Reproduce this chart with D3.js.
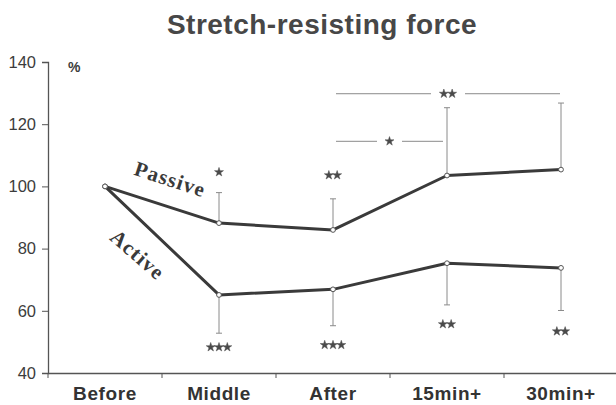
<!DOCTYPE html>
<html><head><meta charset="utf-8">
<script src="https://cdn.jsdelivr.net/npm/d3@7"></script>
<style>
html,body{margin:0;padding:0;background:#fff;}
svg{display:block;}
</style>
</head><body>
<svg id="chart" width="616" height="405"></svg>
<script>
const title = "Stretch-resisting force";
const categories = ["Before", "Middle", "After", "15min+", "30min+"];
const yTicks = [40, 60, 80, 100, 120, 140];
const passive = [100, 88.2, 86, 103.5, 105.4];
const passiveErrTop = [null, 98, 96, 125.3, 126.8];
const active = [100, 65.1, 66.9, 75.3, 73.8];
const activeErrBottom = [null, 52.8, 55.2, 61.9, 60.1];
// number of significance stars and their vertical position (in % units)
const passiveStars = [0, 1, 2, 0, 0];
const passiveStarY = [null, 104.6, 103.6, null, null];
const activeStars = [0, 3, 3, 2, 2];
const activeStarY = [null, 48.3, 49.0, 55.7, 53.4];
// significance brackets between passive time points
const brackets = [
  {from: "After", to: "15min+", stars: 1, y: 114.5},
  {from: "After", to: "30min+", stars: 2, y: 129.8}
];

const svg = d3.select("#chart");
const x = d3.scaleBand().domain(categories).range([48, 618]).padding(0);
const y = d3.scaleLinear().domain([40, 140]).range([373, 62]);
const cx = c => x(c) + x.bandwidth() / 2;
const ink = "#3a3a3a";
const sans = "Liberation Sans, Arial, sans-serif";

// title
svg.append("text").attr("x", 322).attr("y", 34).attr("text-anchor", "middle")
  .attr("font-family", sans).attr("font-weight", "bold").attr("letter-spacing", 0.5)
  .attr("font-size", 28).attr("fill", "#474747").text(title);

// y axis
const yAxis = svg.append("g").attr("transform", "translate(48,0)")
  .call(d3.axisLeft(y).tickValues(yTicks).tickSize(6).tickPadding(6));
yAxis.select(".domain").attr("stroke", "#555").attr("stroke-width", 1.3);
yAxis.selectAll(".tick line").attr("stroke", "#555");
yAxis.selectAll(".tick text").attr("font-family", sans)
  .attr("font-size", 16.5).attr("fill", "#3c3c3c");

// x axis
const xAxis = svg.append("g").attr("transform", "translate(0,373)")
  .call(d3.axisBottom(x).tickSize(0).tickPadding(14));
xAxis.select(".domain").attr("stroke", "#555").attr("stroke-width", 1.3);
xAxis.selectAll(".tick text").attr("font-family", sans).attr("letter-spacing", 0.6)
  .attr("font-weight", "bold").attr("font-size", 19).attr("fill", "#333");
// boundary ticks
svg.append("g").selectAll("line").data(categories).join("line")
  .attr("x1", d => x(d)).attr("x2", d => x(d)).attr("y1", 373).attr("y2", 378)
  .attr("stroke", "#555").attr("stroke-width", 1);

// % unit
svg.append("text").attr("x", 68).attr("y", 72)
  .attr("font-family", sans).attr("font-weight", "bold")
  .attr("font-size", 14).attr("fill", "#3c3c3c").text("%");

// error bars
function errBars(vals, ends) {
  const g = svg.append("g").attr("stroke", "#8a8a8a").attr("stroke-width", 1);
  categories.forEach((c, i) => {
    if (ends[i] == null) return;
    g.append("line").attr("x1", cx(c)).attr("x2", cx(c)).attr("y1", y(vals[i])).attr("y2", y(ends[i]));
    g.append("line").attr("x1", cx(c) - 3).attr("x2", cx(c) + 3).attr("y1", y(ends[i])).attr("y2", y(ends[i]));
  });
}
errBars(passive, passiveErrTop);
errBars(active, activeErrBottom);

// lines
const line = d3.line().x((d, i) => cx(categories[i])).y(d => y(d));
[passive, active].forEach(s => {
  svg.append("path").datum(s).attr("d", line).attr("fill", "none")
    .attr("stroke", ink).attr("stroke-width", 3).attr("stroke-linejoin", "round");
});
[passive, active].forEach(s => {
  svg.append("g").selectAll("circle").data(s).join("circle")
    .attr("cx", (d, i) => cx(categories[i])).attr("cy", d => y(d)).attr("r", 2.4)
    .attr("fill", "#fff").attr("stroke", "#555").attr("stroke-width", 1);
});

// star glyphs
const starPath = d3.symbol(d3.symbolStar).size(25)();
function starGroup(n, xc, yc) {
  const step = 8.3;
  for (let k = 0; k < n; k++) {
    svg.append("path").attr("d", starPath)
      .attr("transform", `translate(${xc + (k - (n - 1) / 2) * step},${yc})`)
      .attr("fill", "#4a4a4a").attr("stroke", "#4a4a4a").attr("stroke-width", 0.5)
      .attr("stroke-linejoin", "round");
  }
}
categories.forEach((c, i) => {
  if (passiveStars[i]) starGroup(passiveStars[i], cx(c), y(passiveStarY[i]));
  if (activeStars[i]) starGroup(activeStars[i], cx(c), y(activeStarY[i]));
});

// brackets
brackets.forEach(b => {
  const x1 = cx(b.from) + 3, x2 = cx(b.to) - (b.to === "30min+" ? 1 : 4);
  const mid = (x1 + x2) / 2, gap = b.stars * 4.5 + 8;
  const g = svg.append("g").attr("stroke", "#8a8a8a").attr("stroke-width", 1);
  g.append("line").attr("x1", x1).attr("x2", mid - gap).attr("y1", y(b.y)).attr("y2", y(b.y));
  g.append("line").attr("x1", mid + gap).attr("x2", x2).attr("y1", y(b.y)).attr("y2", y(b.y));
  starGroup(b.stars, mid, y(b.y));
});

// series labels
svg.append("text").attr("transform", "translate(168,186) rotate(18)").attr("text-anchor", "middle")
  .attr("font-family", "Liberation Serif, Times New Roman, serif").attr("font-weight", "bold")
  .attr("font-size", 21).attr("letter-spacing", 1.2).attr("fill", "#3a3a3a").text("Passive");
svg.append("text").attr("transform", "translate(133,260) rotate(41)").attr("text-anchor", "middle")
  .attr("font-family", "Liberation Serif, Times New Roman, serif").attr("font-weight", "bold")
  .attr("font-size", 21).attr("letter-spacing", 1.2).attr("fill", "#3a3a3a").text("Active");
</script>
</body></html>
